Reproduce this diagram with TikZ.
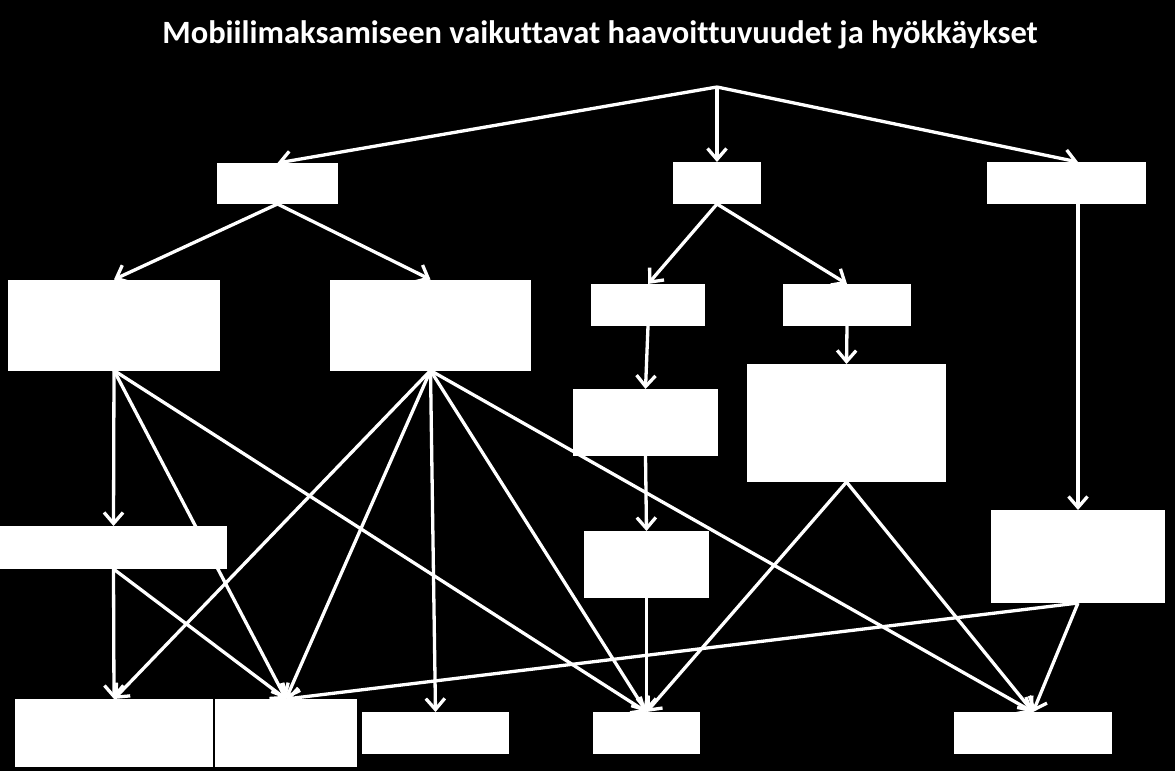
\documentclass[tikz,border=0pt]{standalone}
\usepackage{fontspec}
\setmainfont{Carlito}[Ligatures=NoCommon]
\usetikzlibrary{arrows.meta}
\pgfdeclarelayer{back}
\pgfdeclarelayer{lines}
\pgfsetlayers{back,lines,main}
\tikzset{
  box/.style={fill=white, draw=none, inner sep=0pt, outer sep=0pt},
  link/.style={draw=white, line width=3.3pt, -{Straight Barb[length=11pt,width=19pt]}},
}
\begin{document}
\begin{tikzpicture}[x=1pt,y=-1pt]
\begin{pgfonlayer}{back}
\fill[black] (0,0) rectangle (1175,771);
\end{pgfonlayer}
\useasboundingbox (0,0) rectangle (1175,771);

\node[text=white, font=\bfseries\fontsize{32.5}{38}\selectfont, anchor=base] (title) at (600,43) {Mobiilimaksamiseen vaikuttavat haavoittuvuudet ja hyökkäykset};

\coordinate (root) at (717,87);

\node[box, minimum width=121pt, minimum height=41pt] (T1) at (277.5,183.5) {};
\node[box, minimum width=88pt,  minimum height=42pt] (T2) at (717,183) {};
\node[box, minimum width=159pt, minimum height=42pt] (T3) at (1066.5,183) {};
\node[box, minimum width=212pt, minimum height=91pt] (A) at (114,325) {};
\node[box, minimum width=201pt, minimum height=91pt] (B) at (430.5,325) {};
\node[box, minimum width=114pt, minimum height=42pt] (C) at (648,305) {};
\node[box, minimum width=128pt, minimum height=42pt] (D) at (847,305) {};
\node[box, minimum width=145pt, minimum height=67pt] (E) at (645.5,422.5) {};
\node[box, minimum width=199pt, minimum height=118pt] (F) at (846.5,423) {};
\node[box, minimum width=227pt, minimum height=43pt] (G) at (113.5,547.5) {};
\node[box, minimum width=125pt, minimum height=67pt] (H) at (646.5,564.5) {};
\node[box, minimum width=174pt, minimum height=93pt] (I) at (1078,556.5) {};
\node[box, minimum width=198pt, minimum height=68pt] (J) at (114,733) {};
\node[box, minimum width=142pt, minimum height=68pt] (K) at (286,733) {};
\node[box, minimum width=147pt, minimum height=42pt] (L) at (435.5,733) {};
\node[box, minimum width=107pt, minimum height=42pt] (M) at (646.5,733) {};
\node[box, minimum width=158pt, minimum height=42pt] (N) at (1033,733) {};

\begin{pgfonlayer}{lines}
\draw[link] (root) -- (T1.north);
\draw[link] (root) -- (T2.north);
\draw[link] (root) -- (T3.north -| I.north);
\draw[link] (T1.south) -- (A.north);
\draw[link] (T1.south) -- (B.north);
\draw[link] (T2.south) -- (C.north);
\draw[link] (T2.south) -- (D.north);
\draw[link] (T3.south -| I.north) -- (I.north);
\draw[link] (C.south) -- (E.north);
\draw[link] (D.south) -- (F.north);
\draw[link] (E.south) -- (H.north);
\draw[link] (A.south) -- (G.north);
\draw[link] (A.south) -- (K.north);
\draw[link] (A.south) -- (M.north);
\draw[link] (G.south) -- (J.north);
\draw[link] (G.south) -- (K.north);
\draw[link] (B.south) -- (J.north);
\draw[link] (B.south) -- (K.north);
\draw[link] (B.south) -- (L.north);
\draw[link] (B.south) -- (M.north);
\draw[link] (B.south) -- (N.north);
\draw[link] (H.south) -- (M.north);
\draw[link] (F.south) -- (M.north);
\draw[link] (F.south) -- (N.north);
\draw[link] (I.south) -- (N.north);
\draw[link] (I.south) -- (K.north);
\end{pgfonlayer}
\end{tikzpicture}
\end{document}
